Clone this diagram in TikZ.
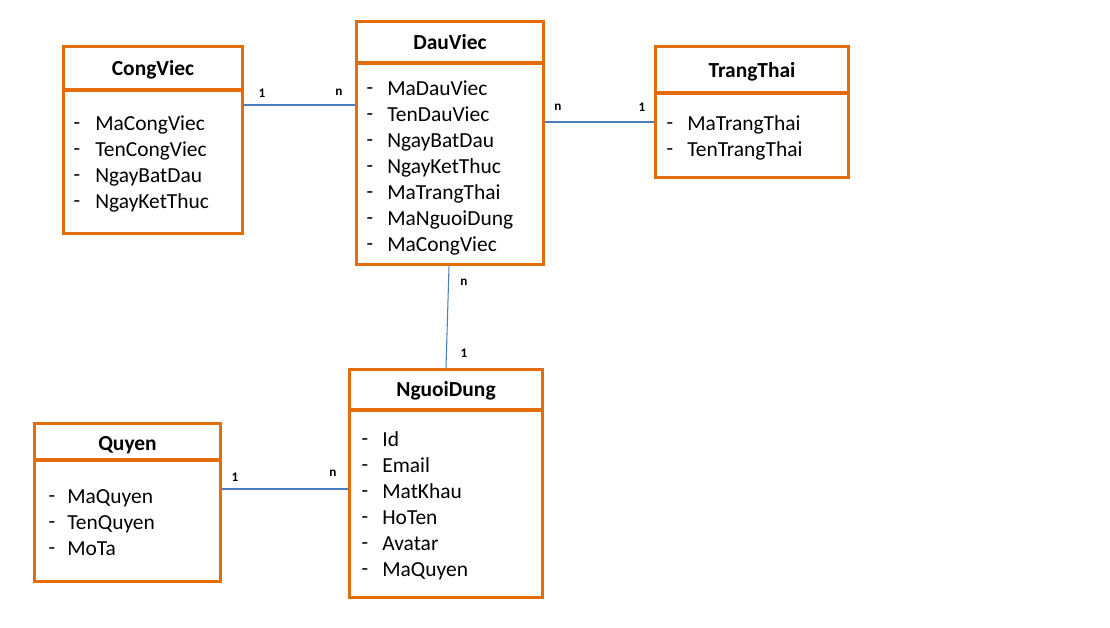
\documentclass[tikz,border=0pt]{standalone}
\usepackage{fontspec}
\setmainfont{Carlito}
\usepackage{tikz}
\usetikzlibrary{positioning, calc}
\definecolor{erd_orange}{RGB}{228, 108, 10}
\definecolor{erd_blue}{RGB}{74, 126, 187}

\begin{document}
\begin{tikzpicture}[
      x=0.02cm, y=-0.02cm,
      box/.style={rectangle, draw=erd_orange, line width=1.7pt,
                  inner sep=0pt},
      divider/.style={draw=erd_orange, line width=1.8pt},
      title/.style={font=\fontsize{12.2}{14}\selectfont\bfseries,
                    inner sep=0pt, text height=1.55ex, text depth=.4ex},
      attr/.style={anchor=west, inner sep=0pt, text height=1.55ex,
                   text depth=.4ex, font=\fontsize{12.2}{14}\selectfont},
      bullet/.style={inner sep=0pt, font=\fontsize{12.2}{14}\selectfont},
      rel/.style={draw=erd_blue, line width=0.6pt},
      card/.style={font=\fontsize{7.5}{8}\selectfont\bfseries, inner sep=0pt},
    ]
      \useasboundingbox (0,0) rectangle (1110,628);

      % CongViec
      \node[box, minimum width=3.6cm, minimum height=3.76cm] (cv) at (153,140) {};
      \draw[divider] (cv.west |- 0,90) -- (cv.east |- 0,90);
      \node[title] (cvt) at (153,71) {CongViec};
      \foreach \f [count=\i from 0] in {MaCongViec,TenCongViec,NgayBatDau,NgayKetThuc} {
        \node[bullet] (cvd\i) at (77,126+26*\i) {-};
        \node[attr]   (cva\i) at (95,126+26*\i) {\f};
      }

      % DauViec
      \node[box, minimum width=3.76cm, minimum height=4.88cm] (dv) at (450,143) {};
      \draw[divider] (dv.west |- 0,63) -- (dv.east |- 0,63);
      \node[title] (dvt) at (450,45) {DauViec};
      \foreach \f [count=\i from 0] in {MaDauViec,TenDauViec,NgayBatDau,NgayKetThuc,MaTrangThai,MaNguoiDung,MaCongViec} {
        \node[bullet] (dvd\i) at (370,91+26*\i) {-};
        \node[attr]   (dva\i) at (387,91+26*\i) {\f};
      }

      % TrangThai
      \node[box, minimum width=3.88cm, minimum height=2.64cm] (tt) at (752,112) {};
      \draw[divider] (tt.west |- 0,93) -- (tt.east |- 0,93);
      \node[title] (ttt) at (752,73) {TrangThai};
      \foreach \f [count=\i from 0] in {MaTrangThai,TenTrangThai} {
        \node[bullet] (ttd\i) at (670,126+26*\i) {-};
        \node[attr]   (tta\i) at (687,126+26*\i) {\f};
      }

      % NguoiDung
      \node[box, minimum width=3.88cm, minimum height=4.58cm] (nd) at (446,483.5) {};
      \draw[divider] (nd.west |- 0,410) -- (nd.east |- 0,410);
      \node[title] (ndt) at (446,392) {NguoiDung};
      \foreach \f [count=\i from 0] in {Id,Email,MatKhau,HoTen,Avatar,MaQuyen} {
        \node[bullet] (ndd\i) at (365,442+26*\i) {-};
        \node[attr]   (nda\i) at (382,442+26*\i) {\f};
      }

      % Quyen
      \node[box, minimum width=3.74cm, minimum height=3.18cm] (qy) at (127.5,502.5) {};
      \draw[divider] (qy.west |- 0,460) -- (qy.east |- 0,460);
      \node[title] (qyt) at (127.5,446) {Quyen};
      \foreach \f [count=\i from 0] in {MaQuyen,TenQuyen,MoTa} {
        \node[bullet] (qyd\i) at (52,499+26*\i) {-};
        \node[attr]   (qya\i) at (67,499+26*\i) {\f};
      }

      % relations
      \draw[rel] (cv.east |- 0,105) -- (dv.west |- 0,105);
      \draw[rel] (dv.east |- 0,122) -- (tt.west |- 0,122);
      \draw[rel] ([xshift=-0.02cm]dv.south) -- (nd.north);
      \draw[rel] (qy.east |- 0,489) -- (nd.west |- 0,489);

      \node[card] (c1) at (262,93)  {1};
      \node[card] (c2) at (339,92)  {n};
      \node[card] (c3) at (558,107) {n};
      \node[card] (c4) at (642,107) {1};
      \node[card] (c5) at (464,282) {n};
      \node[card] (c6) at (464,353) {1};
      \node[card] (c7) at (235,477) {1};
      \node[card] (c8) at (333,473) {n};
    \end{tikzpicture}
\end{document}
